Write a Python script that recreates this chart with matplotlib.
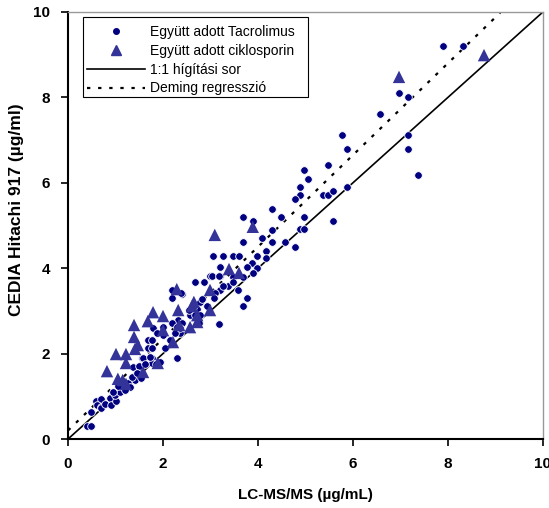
import matplotlib
matplotlib.use("Agg")
import matplotlib.pyplot as plt
from matplotlib.lines import Line2D
from matplotlib.patches import Rectangle

# Együtt adott Tacrolimus (x = LC-MS/MS, y = CEDIA)
tac_x = [7.89, 8.32, 6.97, 7.16, 7.16, 7.16, 7.37, 6.57, 5.77, 5.87, 5.47, 4.97, 5.05, 4.88, 4.88,
         4.78, 5.37, 5.47, 5.58, 5.87, 4.97, 5.58, 4.88, 4.97, 4.29, 4.48, 3.89, 3.68, 4.29, 4.08,
         3.68, 4.29, 4.57, 4.17, 4.78, 3.05, 3.26, 3.47, 3.60, 3.98, 4.17,
         3.87, 3.20, 3.77, 3.98, 3.20, 3.47, 3.68, 3.89, 2.67, 2.86, 2.99, 3.37, 3.47, 3.58,
         3.20, 3.26, 2.19, 2.19, 2.40, 3.09, 2.78, 3.07, 3.77, 3.68, 2.93, 2.72, 2.63, 2.57,
         2.67, 2.32, 1.79, 2.00, 2.19, 2.29, 2.40, 1.68, 1.77, 2.00, 2.15, 2.36, 1.68, 1.77,
         2.04, 1.56, 1.77, 2.29, 1.77, 3.18, 1.87, 2.25, 2.36, 2.78, 2.76, 2.55, 2.38, 2.82,
         1.37, 1.52, 3.03, 3.18,
         0.40, 0.48, 0.48, 0.59, 0.69, 0.62, 0.70, 0.69, 0.78, 0.88, 0.91, 1.01, 0.99, 1.09,
         1.16, 1.26, 1.31, 1.41, 1.49, 1.58, 1.73, 1.85, 1.94, 1.54, 1.20, 1.35, 1.05, 0.95,
         1.62, 1.45]
tac_y = [9.20, 9.20, 8.10, 8.01, 7.12, 6.79, 6.18, 7.61, 7.12, 6.79, 6.42, 6.30, 6.09, 5.90, 5.71,
         5.62, 5.71, 5.71, 5.81, 5.90, 5.20, 5.11, 4.92, 4.92, 5.39, 5.20, 5.11, 5.20, 4.89, 4.71,
         4.61, 4.61, 4.61, 4.40, 4.50, 4.29, 4.29, 4.29, 4.29, 4.29, 4.24,
         4.12, 4.03, 4.03, 4.00, 3.82, 3.80, 3.80, 3.89, 3.68, 3.68, 3.82, 3.58, 3.68, 3.49,
         3.49, 3.58, 3.49, 3.30, 3.40, 3.42, 3.21, 3.30, 3.30, 3.11, 3.11, 3.04, 3.09, 2.90,
         2.90, 2.79, 2.60, 2.62, 2.72, 2.62, 2.72, 2.32, 2.32, 2.44, 2.32, 2.48, 2.13, 2.13,
         2.13, 1.90, 1.90, 1.90, 1.78, 2.69, 2.48, 2.48, 2.60, 2.90, 2.72, 3.02, 3.42, 3.28,
         1.69, 1.69, 3.82, 3.82,
         0.30, 0.30, 0.63, 0.89, 0.94, 0.80, 0.75, 0.73, 0.82, 0.96, 0.80, 0.89, 1.03, 1.10,
         1.22, 1.31, 1.22, 1.38, 1.71, 1.90, 1.92, 1.76, 1.80, 1.43, 1.15, 1.45, 1.25, 1.10,
         1.75, 1.55]

# Együtt adott ciklosporin
cyc_x = [8.76, 6.97, 3.89, 3.09, 3.39, 3.60, 2.29, 2.99, 2.65, 2.61, 2.32, 2.99, 2.72, 2.72,
         2.57, 2.00, 1.79, 1.68, 1.39, 1.39, 1.47, 1.41, 2.21, 1.01, 1.22, 1.22, 0.82, 1.05,
         1.15, 1.58, 1.22, 1.89, 2.34, 2.00]
cyc_y = [8.99, 8.48, 4.97, 4.78, 3.98, 3.89, 3.51, 3.49, 3.21, 3.11, 3.02, 3.02, 2.90, 2.74,
         2.62, 2.88, 2.97, 2.76, 2.67, 2.39, 2.20, 2.11, 2.27, 1.99, 1.99, 1.78, 1.59, 1.41,
         1.38, 1.57, 1.29, 1.78, 2.67, 2.55]

# Lines
identity_x = [0, 10]
identity_y = [0, 10]
deming_slope = 1.075
deming_intercept = 0.20
deming_x = [0, 9.1]

ticks = [0, 2, 4, 6, 8, 10]
tick_labels = ["0", "2", "4", "6", "8", "10"]
labels = ["Együtt adott Tacrolimus", "Együtt adott ciklosporin", "1:1 hígítási sor",
          "Deming regresszió"]

fig = plt.figure(figsize=(5.49, 5.08), dpi=100)
ax = fig.add_axes([0.1239, 0.1358, 0.865, 0.8406])

ax.plot(identity_x, identity_y, color="black", lw=1.2, zorder=2)
ax.plot(deming_x, [deming_intercept + deming_slope * v for v in deming_x],
        color="black", lw=1.6, linestyle=(0, (1.5, 3.5)), zorder=2)

ax.scatter(tac_x, tac_y, s=30, marker="o", color="#000080", edgecolors="white",
           linewidths=0.6, zorder=3)
ax.scatter(cyc_x, cyc_y, s=80, marker="^", color="#333399", edgecolors="none", zorder=4)

ax.set_xlim(0, 10)
ax.set_ylim(0, 10)
ax.set_xticks(ticks)
ax.set_yticks(ticks)
tick_font = dict(family="Liberation Sans", weight="bold", size=11)
ax.set_xticklabels(tick_labels, **tick_font)
ax.set_yticklabels(tick_labels, **tick_font)
ax.tick_params(direction="out", length=5, width=1.2, pad=8, colors="black")

for side in ["left", "bottom"]:
    ax.spines[side].set_linewidth(1.5)
    ax.spines[side].set_color("black")
for side in ["top", "right"]:
    ax.spines[side].set_linewidth(1.0)
    ax.spines[side].set_color("#999999")

ax.set_xlabel("LC-MS/MS (µg/mL)", family="Liberation Sans", weight="bold", size=11, labelpad=12)
ax.set_ylabel("CEDIA Hitachi 917 (µg/ml)", family="Liberation Sans", weight="bold",
              size=12.5)
ax.yaxis.set_label_coords(-0.093, 0.536)

# legend box (drawn separately to match the wide right margin)
ax.add_patch(Rectangle((0.0316, 0.801), 0.4735, 0.187, transform=ax.transAxes,
                       facecolor="white", edgecolor="black", lw=0.8, zorder=5))

handles = [
    Line2D([], [], linestyle="none", marker="o", color="#000080", markersize=4),
    Line2D([], [], linestyle="none", marker="^", color="#333399", markersize=7),
    Line2D([], [], color="black", lw=1.2),
    Line2D([], [], color="black", lw=1.6, linestyle=(0, (1.5, 3.5))),
]
leg = ax.legend(handles, labels, loc="upper left", bbox_to_anchor=(0.040, 0.970),
                prop=dict(family="Liberation Sans", size=10), frameon=False,
                borderpad=0, handlelength=4.2, handletextpad=0.3, labelspacing=0.35,
                borderaxespad=0)
leg.set_zorder(6)

fig.savefig("out.png", dpi=100)
